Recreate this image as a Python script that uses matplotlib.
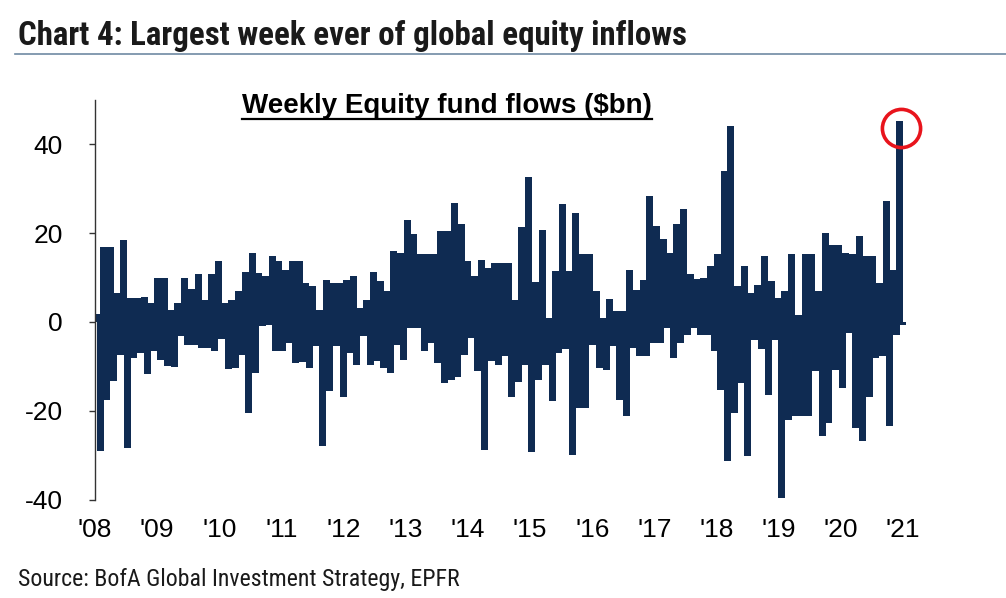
import numpy as np
import matplotlib
matplotlib.use("Agg")
import matplotlib.pyplot as plt
from matplotlib import font_manager
from matplotlib.lines import Line2D

# ---------------- data (weekly equity fund flows, $bn; upper / lower envelope read per segment) ----
seg01_hi = [1.9, 16.8, 16.8, 6.5, 18.4, 5.4, 5.4, 5.6, 4.3, 9.9]
seg01_lo = [-29.0, -17.5, -13.2, -7.4, -28.4, -8.1, -7.0, -11.7, -6.6, -8.5]
seg02_hi = [9.9, 2.8, 4.3, 9.9, 7.5, 10.7, 5.0, 10.9, 13.8, 4.3]
seg02_lo = [-10.0, -10.2, -3.2, -5.1, -5.1, -5.9, -5.9, -6.5, -3.8, -10.6]
seg03_hi = [5.0, 6.9, 11.2, 15.6, 11.0, 10.3, 14.8, 13.7, 11.8, 13.7]
seg03_lo = [-10.4, -7.4, -20.5, -11.5, -1.0, -0.6, -6.6, -6.6, -4.7, -9.2]
seg04_hi = [13.7, 8.8, 8.0, 2.8, 9.5, 8.8, 8.8, 9.5, 10.3, 3.2]
seg04_lo = [-9.1, -10.4, -5.5, -27.9, -15.6, -5.5, -16.8, -7.0, -9.6, -3.2]
seg05_hi = [5.0, 11.2, 9.2, 6.9, 15.9, 15.6, 23.0, 19.7, 15.2, 15.2]
seg05_lo = [-9.6, -8.9, -10.4, -11.4, -5.1, -8.5, -1.4, -1.4, -6.6, -4.7]
seg06_hi = [15.2, 20.5, 20.5, 26.8, 22.0, 13.7, 10.3, 14.0, 12.2, 13.3]
seg06_lo = [-9.2, -13.8, -13.0, -12.3, -7.4, -3.6, -11.1, -28.8, -8.9, -9.8]
seg07_hi = [13.3, 13.2, 5.0, 21.4, 32.7, 8.9, 20.8, 1.0, 11.4, 26.5]
seg07_lo = [-7.7, -16.8, -13.6, -9.6, -29.2, -13.0, -9.8, -17.9, -7.0, -6.2]
seg08_hi = [11.4, 24.6, 15.4, 15.4, 6.9, 1.0, 5.2, 2.4, 2.4, 11.6]
seg08_lo = [-29.9, -19.4, -19.4, -5.1, -10.4, -10.8, -5.5, -17.5, -21.3, -5.9]
seg09_hi = [7.3, 9.5, 28.3, 21.6, 18.6, 15.6, 22.0, 25.5, 10.7, 9.7]
seg09_lo = [-7.7, -7.7, -4.7, -4.7, -1.4, -8.1, -4.7, -2.9, -1.4, -2.9]
seg10_hi = [9.9, 12.6, 15.2, 34.1, 44.1, 8.0, 12.7, 6.5, 8.4, 14.8]
seg10_lo = [-2.9, -6.6, -15.3, -31.4, -20.5, -13.8, -30.3, -4.0, -6.2, -16.4]
seg11_hi = [9.2, 5.4, 6.9, 15.2, 1.5, 15.2, 15.2, 6.9, 20.0, 17.4]
seg11_lo = [-4.0, -39.7, -22.0, -21.3, -21.3, -21.3, -11.1, -25.8, -22.8, -10.8]
seg12_hi = [17.4, 15.6, 15.2, 19.3, 14.8, 14.8, 8.8, 27.2, 11.8, 45.3]
seg12_lo = [-14.9, -2.5, -23.9, -26.9, -16.8, -8.1, -7.7, -23.5, -2.9, -0.8]

year_ticks = list(range(2008, 2022))
year_labels = ["'%02d" % (y % 100) for y in year_ticks]
y_ticks = [-40, -20, 0, 20, 40]

title_text = "Chart 4: Largest week ever of global equity inflows"
subtitle_text = "Weekly Equity fund flows ($bn)"
source_text = "Source: BofA Global Investment Strategy, EPFR"

# ---------------- assemble series ----------------
his = [seg01_hi, seg02_hi, seg03_hi, seg04_hi, seg05_hi, seg06_hi,
       seg07_hi, seg08_hi, seg09_hi, seg10_hi, seg11_hi, seg12_hi]
los = [seg01_lo, seg02_lo, seg03_lo, seg04_lo, seg05_lo, seg06_lo,
       seg07_lo, seg08_lo, seg09_lo, seg10_lo, seg11_lo, seg12_lo]
values = []
for h, l in zip(his, los):
    for a, b in zip(h, l):
        values.extend([a, b])
values = np.array(values)
x = np.linspace(2008.03, 2021.0, len(values))

# ---------------- fonts ----------------
def pick(*names):
    for n in names:
        try:
            font_manager.findfont(font_manager.FontProperties(family=n),
                                  fallback_to_default=False)
            return n
        except Exception:
            pass
    return "DejaVu Sans"

arial = pick("Liberation Sans", "Arial", "DejaVu Sans")
narrow = pick("Liberation Sans Narrow", "Roboto Condensed", "Liberation Sans")
plt.rcParams["axes.unicode_minus"] = False

W, H = 1006, 598
fig = plt.figure(figsize=(W / 100, H / 100), dpi=100)
fig.patch.set_facecolor("white")

def fx(px):
    return px / W

def fy(py):
    return 1 - py / H

ax = fig.add_axes([fx(95), fy(499.5), fx(915) - fx(95), fy(100) - fy(499.5)])

navy = "#0f2b52"
bar_w = 7 / 62.15
ax.bar(x, values, width=bar_w, color=navy, edgecolor="none", linewidth=0, zorder=2)

ax.set_xlim(2008, 2008 + (915 - 95) / 62.15)
ax.set_ylim(-40, 50)
ax.set_yticks(y_ticks)
ax.set_yticklabels([str(v) for v in y_ticks], fontfamily=arial, fontsize=19)
ax.set_xticks(year_ticks)
ax.set_xticklabels(year_labels, fontfamily=arial, fontsize=19)
for s in ["top", "right", "bottom"]:
    ax.spines[s].set_visible(False)
ax.spines["left"].set_color("#333333")
ax.spines["left"].set_linewidth(1.0)
ax.tick_params(axis="y", direction="out", length=4, width=1.0, color="#333333", pad=19)
ax.tick_params(axis="x", length=0, pad=13)

# red circle around the record week
imax = int(np.argmax(values))
ax.plot(x[imax] + 0.03, values[imax] - 1.7, marker="o", ms=27.5, mfc="none",
        mec="#e8141c", mew=2.6, zorder=5, clip_on=False)

# ---------------- texts ----------------
title = fig.text(fx(18), fy(45), title_text, fontfamily=narrow, fontweight="bold",
                 fontsize=20, color="#1a1a1a", ha="left", va="baseline")
sub = fig.text(fx(447), fy(113), subtitle_text, fontfamily=arial, fontweight="bold",
               fontsize=20, color="black", ha="center", va="baseline")
src = fig.text(fx(18), fy(586), source_text, fontfamily=narrow, fontsize=14,
               color="#1a1a1a", ha="left", va="baseline")

def fit_width(txt, target_px):
    fig.canvas.draw()
    r = fig.canvas.get_renderer()
    w = txt.get_window_extent(r).width
    txt.set_fontsize(txt.get_fontsize() * target_px / w)

fit_width(title, 667)
fit_width(sub, 409)
fit_width(src, 444)

fig.canvas.draw()
bb = sub.get_window_extent(fig.canvas.get_renderer())
fig.add_artist(Line2D([bb.x0 / W, bb.x1 / W], [fy(119), fy(119)], color="black", lw=1.6))

# rule under the main title
fig.add_artist(Line2D([fx(15), fx(1006)], [fy(54), fy(54)], color="#6f8aa3", lw=1.2))

fig.savefig("out.png", dpi=100, facecolor="white")
